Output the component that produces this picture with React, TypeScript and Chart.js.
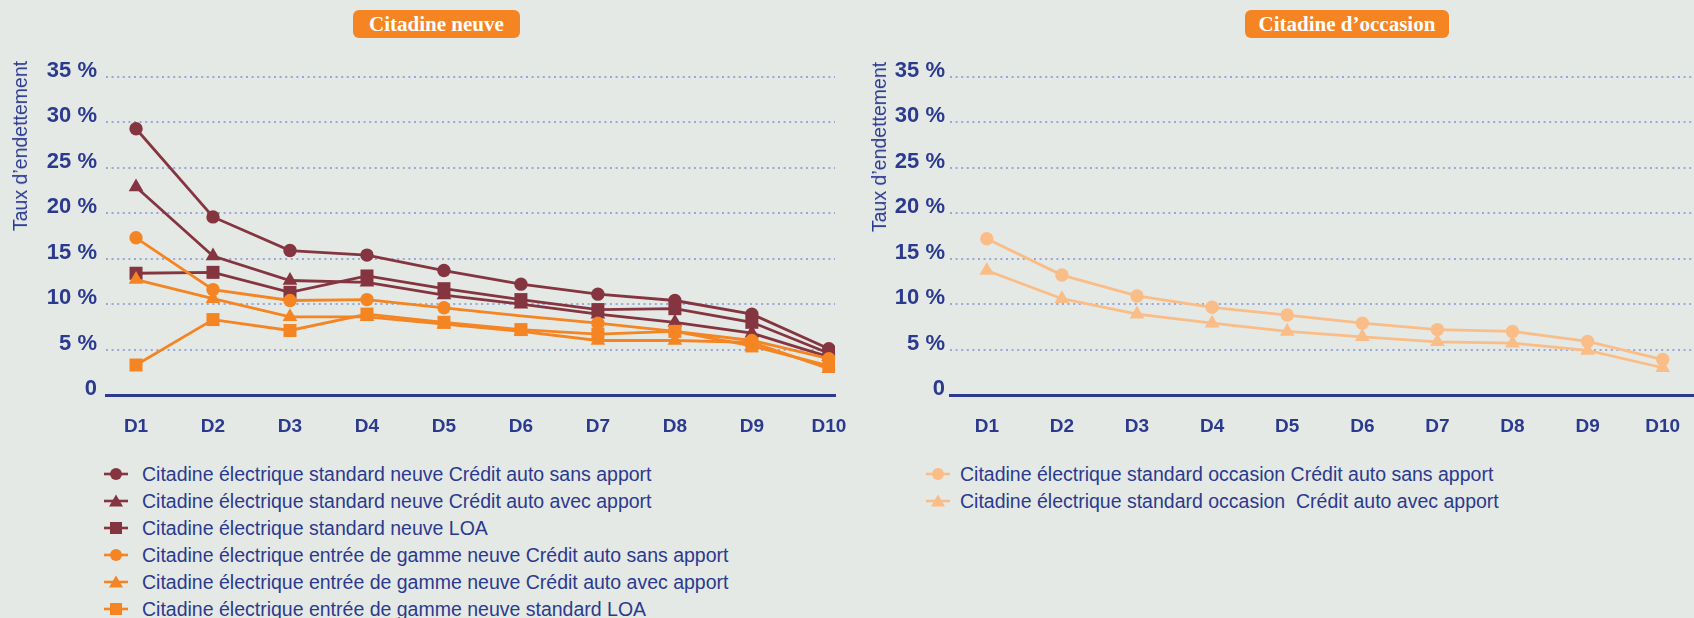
import React, { useEffect, useRef } from "react";
import { Chart, registerables } from "chart.js";

Chart.register(...registerables);

// ---------- DATA ----------
const deciles = ["D1", "D2", "D3", "D4", "D5", "D6", "D7", "D8", "D9", "D10"];
const yTickValues = [0, 5, 10, 15, 20, 25, 30, 35];
const yTickLabels = ["0", "5 %", "10 %", "15 %", "20 %", "25 %", "30 %", "35 %"];

const titleNeuve = "Citadine neuve";
const titleOccasion = "Citadine d’occasion";
const yAxisTitle = "Taux d’endettement";

const labelStdNeuveSans = "Citadine électrique standard neuve Crédit auto sans apport";
const labelStdNeuveAvec = "Citadine électrique standard neuve Crédit auto avec apport";
const labelStdNeuveLoa = "Citadine électrique standard neuve LOA";
const labelEgNeuveSans = "Citadine électrique entrée de gamme neuve Crédit auto sans apport";
const labelEgNeuveAvec = "Citadine électrique entrée de gamme neuve Crédit auto avec apport";
const labelEgNeuveLoa = "Citadine électrique entrée de gamme neuve standard LOA";
const labelStdOccSans = "Citadine électrique standard occasion Crédit auto sans apport";
const labelStdOccAvec = "Citadine électrique standard occasion  Crédit auto avec apport";

const stdNeuveSans = [29.3, 19.6, 15.9, 15.4, 13.7, 12.2, 11.1, 10.4, 8.9, 5.1];
const stdNeuveAvec = [22.9, 15.3, 12.6, 12.4, 11.0, 10.0, 8.9, 8.0, 6.8, 4.2];
const stdNeuveLoa = [13.4, 13.5, 11.3, 13.1, 11.7, 10.5, 9.4, 9.5, 8.0, 4.6];
const egNeuveSans = [17.3, 11.6, 10.4, 10.5, 9.6, 8.7, 7.9, 7.0, 6.0, 4.0];
const egNeuveAvec = [12.7, 10.6, 8.6, 8.6, 7.8, 7.0, 6.0, 6.0, 5.8, 2.9];
const egNeuveLoa = [3.3, 8.3, 7.1, 8.9, 8.0, 7.2, 6.7, 7.0, 5.4, 3.2];

const stdOccSans = [17.2, 13.2, 10.9, 9.65, 8.8, 7.9, 7.2, 7.0, 5.9, 3.9];
const stdOccAvec = [13.7, 10.6, 8.9, 7.9, 7.0, 6.4, 5.85, 5.7, 4.9, 3.0];

// ---------- STYLE ----------
const BG = "#e4e9e5";
const BLUE = "#2b3a8f";
const MAROON = "#853540";
const ORANGE = "#f58423";
const LIGHT = "#fbbd87";
const GRID = "#98a8da";
const SANS = "'Liberation Sans', Arial, sans-serif";

type Series = {
  label: string;
  values: number[];
  color: string;
  shape: "circle" | "triangle" | "rect";
  hidden?: number[];
};

const radiusFor = (shape: string) => (shape === "rect" ? 9.2 : shape === "triangle" ? 8.5 : 6.7);

const leftSeries: Series[] = [
  { label: labelStdNeuveSans, values: stdNeuveSans, color: MAROON, shape: "circle" },
  { label: labelStdNeuveAvec, values: stdNeuveAvec, color: MAROON, shape: "triangle" },
  { label: labelStdNeuveLoa, values: stdNeuveLoa, color: MAROON, shape: "rect" },
  { label: labelEgNeuveSans, values: egNeuveSans, color: ORANGE, shape: "circle", hidden: [5] },
  { label: labelEgNeuveAvec, values: egNeuveAvec, color: ORANGE, shape: "triangle" },
  { label: labelEgNeuveLoa, values: egNeuveLoa, color: ORANGE, shape: "rect" },
];

const rightSeries: Series[] = [
  { label: labelStdOccSans, values: stdOccSans, color: LIGHT, shape: "circle" },
  { label: labelStdOccAvec, values: stdOccAvec, color: LIGHT, shape: "triangle" },
];

type PanelProps = {
  series: Series[];
  left: number;
  width: number;
  height: number;
  yAxisWidth: number;
  padRight: number;
  xMin: number;
  xMax: number;
  tickPad: number;
};

function ChartPanel(p: PanelProps) {
  const ref = useRef<HTMLCanvasElement | null>(null);
  useEffect(() => {
    if (!ref.current) return;
    const chart = new Chart(ref.current, {
      type: "line",
      data: {
        datasets: p.series
          .slice()
          .reverse()
          .map((s) => ({
            label: s.label,
            data: s.values.map((v, i) => ({ x: i, y: v })),
            borderColor: s.color,
            backgroundColor: s.color,
            pointBackgroundColor: s.color,
            pointBorderWidth: 0,
            pointStyle: s.shape,
            pointRadius: s.values.map((_, i) =>
              s.hidden && s.hidden.includes(i) ? 0 : radiusFor(s.shape)
            ),
            borderWidth: 2.8,
            tension: 0,
          })),
      },
      options: {
        animation: false,
        responsive: false,
        maintainAspectRatio: false,
        events: [],
        layout: { padding: { top: 77, left: 0, right: p.padRight, bottom: 0 } },
        plugins: { legend: { display: false }, tooltip: { enabled: false } },
        scales: {
          x: {
            type: "linear",
            min: p.xMin,
            max: p.xMax,
            grid: { display: false, drawTicks: true, tickLength: 20 },
            border: { display: true, color: BLUE, width: 3 },
            ticks: {
              color: BLUE,
              padding: 0,
              font: { family: SANS, size: 19, weight: "bold" },
              callback: (v: any) => deciles[Number(v)] ?? "",
            },
            afterBuildTicks: (s: any) => {
              s.ticks = deciles.map((_, i) => ({ value: i }));
            },
            afterFit: (s: any) => {
              s.height = p.height - 395;
              s.paddingLeft = 0;
              s.paddingRight = 0;
            },
          },
          y: {
            min: 0,
            max: 35,
            grid: { color: GRID, lineWidth: 2, drawTicks: false },
            border: { display: false, dash: [2, 3.6] },
            ticks: {
              color: BLUE,
              padding: p.tickPad,
              labelOffset: -6,
              font: { family: SANS, size: 22, weight: "bold" },
              callback: (v: any) => {
                const idx = yTickValues.indexOf(Number(v));
                return idx >= 0 ? yTickLabels[idx] : "";
              },
            },
            afterBuildTicks: (s: any) => {
              s.ticks = yTickValues.map((v) => ({ value: v }));
            },
            afterFit: (s: any) => {
              s.width = p.yAxisWidth;
            },
          },
        },
      },
    } as any);
    return () => chart.destroy();
  }, []);
  return (
    <canvas
      ref={ref}
      width={p.width}
      height={p.height}
      style={{ position: "absolute", left: p.left, top: 0, width: p.width, height: p.height }}
    />
  );
}

function Marker({ color, shape }: { color: string; shape: string }) {
  return (
    <svg width={24} height={16} style={{ display: "block" }}>
      <line x1={0} y1={8} x2={24} y2={8} stroke={color} strokeWidth={2.6} />
      {shape === "circle" && <circle cx={12} cy={8} r={6} fill={color} />}
      {shape === "rect" && <rect x={6} y={2} width={12} height={12} fill={color} />}
      {shape === "triangle" && <polygon points="12,1.5 19,13.5 5,13.5" fill={color} />}
    </svg>
  );
}

function Legend({ series, markerX, textX, top }: { series: Series[]; markerX: number; textX: number; top: number }) {
  return (
    <>
      {series.map((s, i) => (
        <div
          key={i}
          style={{
            position: "absolute",
            left: markerX,
            top: top + i * 27 - 12,
            height: 24,
            display: "flex",
            alignItems: "center",
            whiteSpace: "pre",
          }}
        >
          <Marker color={s.color} shape={s.shape} />
          <span
            style={{
              marginLeft: textX - markerX - 24,
              font: `19.5px ${SANS}`,
              color: BLUE,
              lineHeight: "24px",
            }}
          >
            {s.label}
          </span>
        </div>
      ))}
    </>
  );
}

function TitleBox({ text, left, width }: { text: string; left: number; width: number }) {
  return (
    <div
      style={{
        position: "absolute",
        left,
        top: 10,
        width,
        height: 28,
        background: ORANGE,
        borderRadius: 6,
        color: "#ffffff",
        font: "bold 21px 'Liberation Serif', serif",
        lineHeight: "28px",
        textAlign: "center",
        whiteSpace: "nowrap",
      }}
    >
      {text}
    </div>
  );
}

function YTitle({ cx, cy }: { cx: number; cy: number }) {
  return (
    <div
      style={{
        position: "absolute",
        left: cx,
        top: cy,
        transform: "translate(-50%, -50%) rotate(-90deg)",
        font: `19.5px ${SANS}`,
        color: BLUE,
        whiteSpace: "nowrap",
        lineHeight: "20px",
      }}
    >
      {yAxisTitle}
    </div>
  );
}

export default function App() {
  return (
    <div
      style={{
        position: "fixed",
        left: 0,
        top: 0,
        width: 1694,
        height: 618,
        background: BG,
        overflow: "hidden",
      }}
    >
      <ChartPanel
        series={leftSeries}
        left={0}
        width={847}
        height={450}
        yAxisWidth={106}
        padRight={12}
        xMin={-0.39}
        xMax={9.08}
        tickPad={9}
      />
      <ChartPanel
        series={rightSeries}
        left={847}
        width={855}
        height={450}
        yAxisWidth={103}
        padRight={2}
        xMin={-0.49}
        xMax={9.41}
        tickPad={5}
      />
      <TitleBox text={titleNeuve} left={353} width={167} />
      <TitleBox text={titleOccasion} left={1245} width={204} />
      <YTitle cx={20} cy={146} />
      <YTitle cx={878.5} cy={147} />
      <Legend series={leftSeries} markerX={104} textX={142} top={474} />
      <Legend series={rightSeries} markerX={926} textX={960} top={474} />
    </div>
  );
}
